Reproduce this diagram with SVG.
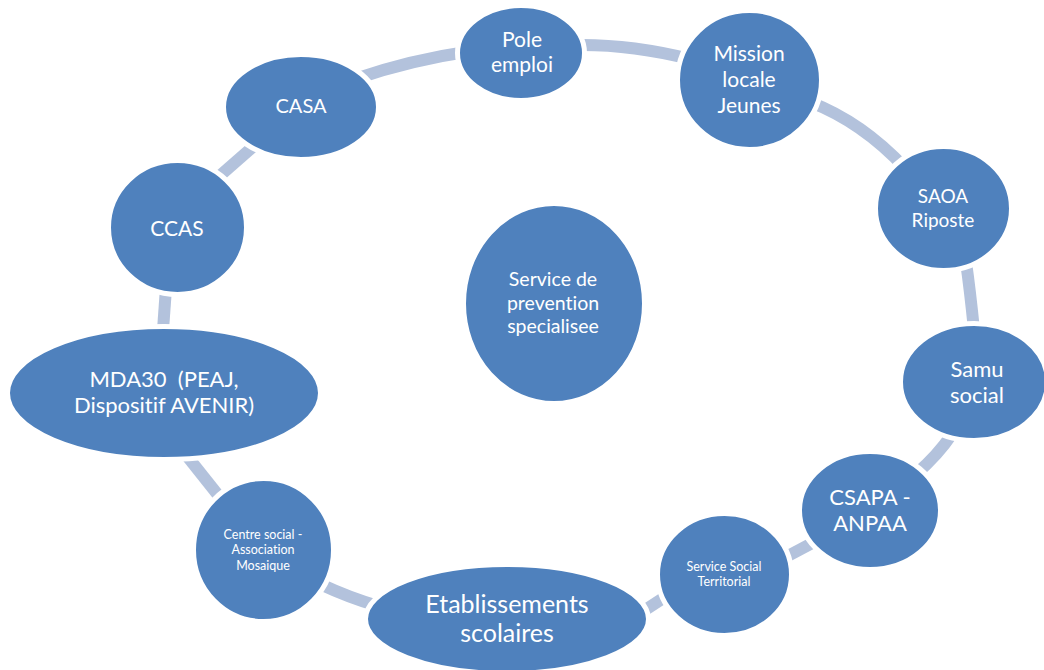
<svg xmlns="http://www.w3.org/2000/svg" width="1044" height="670" viewBox="0 0 1044 670">
<style>
.n{fill:#4F81BD;stroke:#FFFFFF;stroke-width:5}
.c{fill:none;stroke:#B3C2DC;stroke-width:12;stroke-linecap:butt}
text{font-family:Lato,"Liberation Sans",sans-serif;fill:#FFFFFF;text-anchor:middle;font-variant-ligatures:none;font-feature-settings:"liga" 0}
</style>
<rect width="1044" height="670" fill="#FFFFFF"/>
<g id="connectors">
<path class="c" d="M 355 79 Q 410 60 472 51"/>
<path class="c" d="M 575 45 Q 630 44 690 59"/>
<path class="c" d="M 810 102 Q 862 122 905 168"/>
<path class="c" d="M 966 262 Q 970 290 974 330"/>
<path class="c" d="M 952 434 Q 938 455 916 474"/>
<path class="c" d="M 818 540 L 784 558"/>
<path class="c" d="M 668 595 L 642 612"/>
<path class="c" d="M 378 606 Q 350 598 320 584"/>
<path class="c" d="M 222 500 L 187 456"/>
<path class="c" d="M 163 330 L 166 288"/>
<path class="c" d="M 215 180 L 255 145"/>
</g>
<g id="node-pole-emploi">
<ellipse class="n" cx="521" cy="53" rx="63.5" ry="47.5"/>
<text font-size="21"><tspan x="522" y="47">Pole</tspan><tspan x="522" y="72">emploi</tspan></text>
</g>
<g id="node-mission-locale">
<ellipse class="n" cx="749.5" cy="80" rx="72" ry="69.5"/>
<text font-size="21"><tspan x="749" y="61">Mission</tspan><tspan x="749" y="87">locale</tspan><tspan x="749" y="113">Jeunes</tspan></text>
</g>
<g id="node-casa">
<ellipse class="n" cx="301" cy="107" rx="77.5" ry="52.5"/>
<text font-size="20" x="301" y="113">CASA</text>
</g>
<g id="node-saoa">
<ellipse class="n" cx="943.5" cy="208.5" rx="68" ry="62"/>
<text font-size="19"><tspan x="943" y="203">SAOA</tspan><tspan x="943" y="227">Riposte</tspan></text>
</g>
<g id="node-ccas">
<ellipse class="n" cx="177.5" cy="227.5" rx="69" ry="67"/>
<text font-size="21" x="177" y="236">CCAS</text>
</g>
<g id="node-service-prevention">
<ellipse class="n" cx="554" cy="303.5" rx="90.5" ry="100"/>
<text font-size="19.5"><tspan x="553" y="286">Service de</tspan><tspan x="553" y="310">prevention</tspan><tspan x="553" y="333">specialisee</tspan></text>
</g>
<g id="node-mda30">
<ellipse class="n" cx="164" cy="393" rx="156.5" ry="66.5"/>
<text font-size="22" xml:space="preserve"><tspan x="164" y="387">MDA30  (PEAJ,</tspan><tspan x="164" y="413">Dispositif AVENIR)</tspan></text>
</g>
<g id="node-samu-social">
<ellipse class="n" cx="974" cy="382" rx="73.5" ry="58.5"/>
<text font-size="22"><tspan x="977" y="377">Samu</tspan><tspan x="977" y="403">social</tspan></text>
</g>
<g id="node-csapa">
<ellipse class="n" cx="870" cy="510.5" rx="70.5" ry="59"/>
<text font-size="22"><tspan x="870" y="505">CSAPA -</tspan><tspan x="870" y="531">ANPAA</tspan></text>
</g>
<g id="node-centre-social">
<ellipse class="n" cx="263.5" cy="550" rx="70" ry="71.5"/>
<text font-size="12.5"><tspan x="263" y="539">Centre social -</tspan><tspan x="263" y="554">Association</tspan><tspan x="263" y="570">Mosaique</tspan></text>
</g>
<g id="node-service-social-territorial">
<ellipse class="n" cx="724.5" cy="574.5" rx="67" ry="61"/>
<text font-size="12.5"><tspan x="724" y="571">Service Social</tspan><tspan x="724" y="586">Territorial</tspan></text>
</g>
<g id="node-etablissements">
<ellipse class="n" cx="507" cy="619" rx="141.5" ry="54.5"/>
<text font-size="25"><tspan x="507" y="613">Etablissements</tspan><tspan x="507" y="642">scolaires</tspan></text>
</g>
</svg>
